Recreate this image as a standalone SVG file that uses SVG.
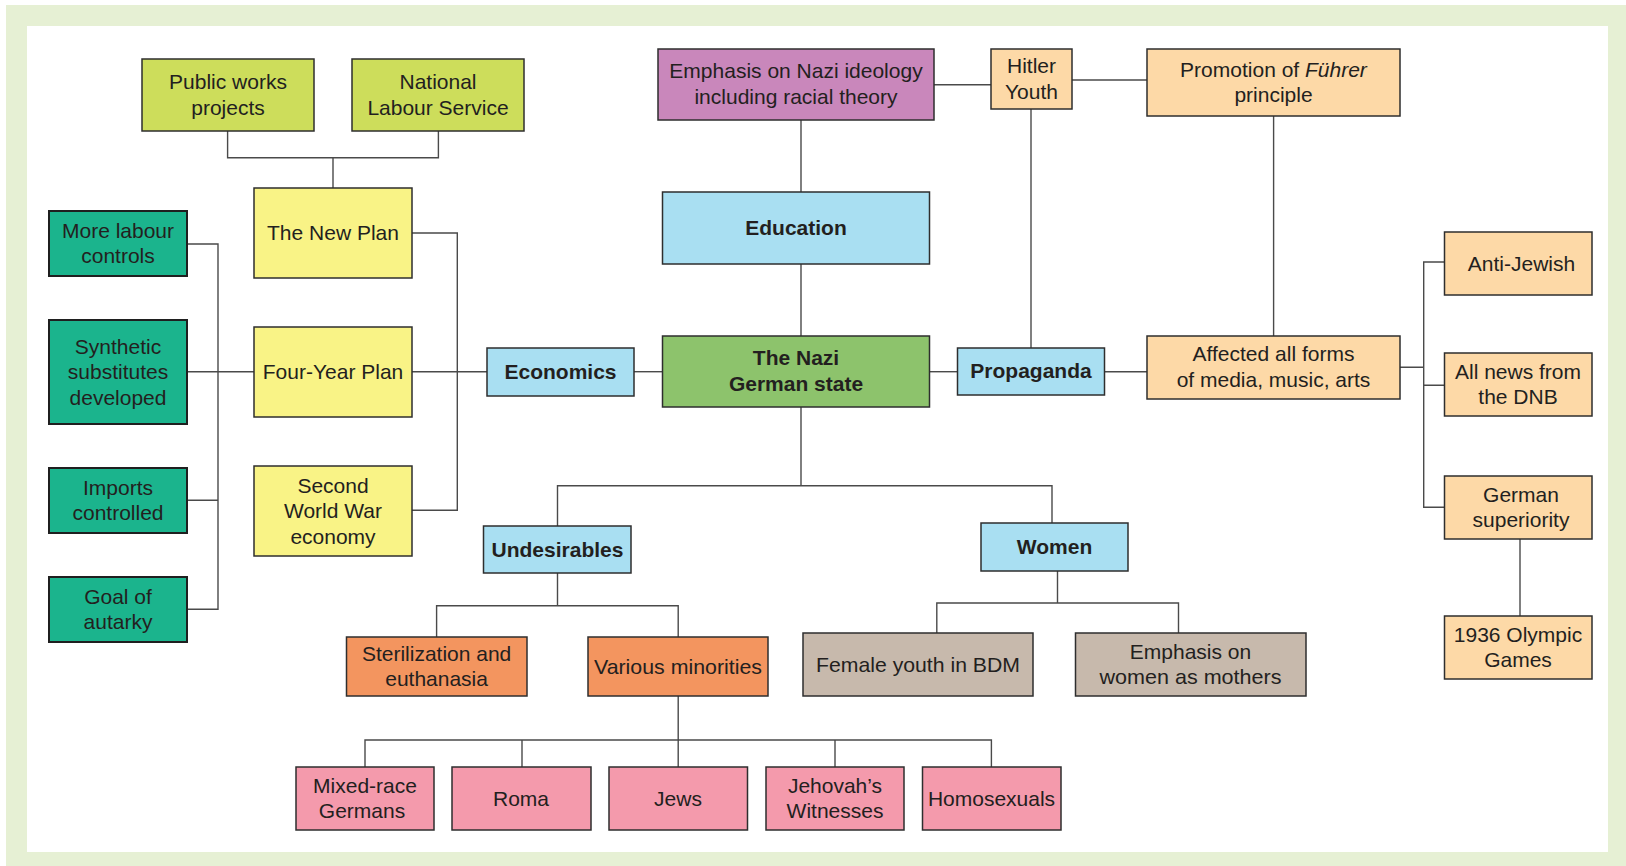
<svg xmlns="http://www.w3.org/2000/svg" width="1626" height="866" viewBox="0 0 1626 866">
<style>
.b{stroke:#2e2e2e;stroke-width:1.5}
.lime{fill:#cddd5b}.yel{fill:#f9f386}.teal{fill:#1bb48d;stroke:#1f1f1f;stroke-width:2}
.mauve{fill:#c987bb}.blue{fill:#a9dff2}.grn{fill:#8dc36c}.peach{fill:#fdd9a7}
.org{fill:#f3955f}.taupe{fill:#c7b9ac}.pink{fill:#f49aac}
text{font-family:"Liberation Sans",Arial,Helvetica,sans-serif;font-size:21px;fill:#231f20;text-anchor:middle}
.bold{font-weight:bold}
#connectors path{fill:none;stroke:#4a4a4a;stroke-width:1.4}
</style>
<rect x="0" y="0" width="1626" height="866" fill="#ffffff"/>
<rect x="6" y="5" width="1620" height="861" fill="#e6f0d4"/>
<rect x="27" y="26" width="1581" height="826" fill="#ffffff"/>
<g id="connectors">
<path d="M227.6,131 V157.7 H438.4 V131 M333,157.7 V188"/>
<path d="M187.3,244 H218 V609.3 H187.3 M187.3,371.7 H254 M187.3,500.3 H218"/>
<path d="M412,233 H457.3 V510.3 H412 M412,371.7 H487"/>
<path d="M634,371.7 H662.5"/>
<path d="M801,120 V192 M801,264 V336"/>
<path d="M934,84.7 H991"/>
<path d="M1072,80 H1147"/>
<path d="M1031,109 V348"/>
<path d="M929.5,371.7 H957.5"/>
<path d="M1104.5,371.7 H1147"/>
<path d="M1273.6,116 V336"/>
<path d="M1400,367.3 H1423.7 M1444.5,262 H1423.7 V507.3 H1444.5 M1423.7,385.3 H1444.5"/>
<path d="M1520,539 V616"/>
<path d="M801,407 V485.7 M557.5,526 V485.7 H1052 V523"/>
<path d="M557.5,573 V605.7 M436.6,637 V605.7 H678.2 V637"/>
<path d="M678.2,696 V767 M365,767 V740 H991.4 V767 M522,740 V767 M835,740 V767"/>
<path d="M1057.5,571 V603 M936.8,633 V603 H1178.5 V633"/>
</g>
<g id="public-works"><rect class="b lime" x="142" y="59" width="172" height="72"/><text x="228" y="89.25">Public works</text><text x="228" y="114.75">projects</text></g>
<g id="national-labour"><rect class="b lime" x="352" y="59" width="172" height="72"/><text x="438" y="89.25">National</text><text x="438" y="114.75">Labour Service</text></g>
<g id="new-plan"><rect class="b yel" x="254" y="188" width="158" height="90"/><text x="333" y="240">The New Plan</text></g>
<g id="four-year-plan"><rect class="b yel" x="254" y="327" width="158" height="90"/><text x="333" y="379">Four-Year Plan</text></g>
<g id="sww-economy"><rect class="b yel" x="254" y="466" width="158" height="90"/><text x="333" y="492.5">Second</text><text x="333" y="518">World War</text><text x="333" y="543.5">economy</text></g>
<g id="more-labour"><rect class="teal" x="49" y="211" width="138" height="65"/><text x="118" y="237.75">More labour</text><text x="118" y="263.25">controls</text></g>
<g id="synthetic"><rect class="teal" x="49" y="320" width="138" height="104"/><text x="118" y="353.5">Synthetic</text><text x="118" y="379">substitutes</text><text x="118" y="404.5">developed</text></g>
<g id="imports"><rect class="teal" x="49" y="468" width="138" height="65"/><text x="118" y="494.75">Imports</text><text x="118" y="520.25">controlled</text></g>
<g id="autarky"><rect class="teal" x="49" y="577" width="138" height="65"/><text x="118" y="603.75">Goal of</text><text x="118" y="629.25">autarky</text></g>
<g id="economics"><rect class="b blue" x="487" y="348" width="147" height="48"/><text class="bold" x="560.5" y="379">Economics</text></g>
<g id="nazi-state"><rect class="b grn" x="662.5" y="336" width="267" height="71"/><text class="bold" x="796" y="365.25">The Nazi</text><text class="bold" x="796" y="390.75">German state</text></g>
<g id="education"><rect class="b blue" x="662.5" y="192" width="267" height="72"/><text class="bold" x="796" y="235">Education</text></g>
<g id="ideology"><rect class="b mauve" x="658" y="49" width="276" height="71"/><text x="796" y="78.25">Emphasis on Nazi ideology</text><text x="796" y="103.75">including racial theory</text></g>
<g id="hitler-youth"><rect class="b peach" x="991" y="49" width="81" height="60"/><text x="1031.5" y="73.25">Hitler</text><text x="1031.5" y="98.75">Youth</text></g>
<g id="fuhrer"><rect class="b peach" x="1147" y="49" width="253" height="67"/><text x="1273.5" y="76.75">Promotion of <tspan font-style="italic">Führer</tspan></text><text x="1273.5" y="102.25">principle</text></g>
<g id="propaganda"><rect class="b blue" x="957.5" y="348" width="147" height="47"/><text class="bold" x="1031" y="378">Propaganda</text></g>
<g id="affected"><rect class="b peach" x="1147" y="336" width="253" height="63"/><text x="1273.5" y="361.25">Affected all forms</text><text x="1273.5" y="386.75">of media, music, arts</text></g>
<g id="anti-jewish"><rect class="b peach" x="1444.5" y="232" width="147.5" height="63"/><text x="1521.5" y="270.5">Anti-Jewish</text></g>
<g id="dnb"><rect class="b peach" x="1444.5" y="353" width="147.5" height="63"/><text x="1518" y="378.75">All news from</text><text x="1518" y="404.25">the DNB</text></g>
<g id="german-superiority"><rect class="b peach" x="1444.5" y="476" width="147.5" height="63"/><text x="1521" y="501.75">German</text><text x="1521" y="527.25">superiority</text></g>
<g id="olympics"><rect class="b peach" x="1444.5" y="616" width="147.5" height="63"/><text x="1518" y="641.75">1936 Olympic</text><text x="1518" y="667.25">Games</text></g>
<g id="undesirables"><rect class="b blue" x="483.5" y="526" width="147.5" height="47"/><text class="bold" x="557.5" y="556.5">Undesirables</text></g>
<g id="women"><rect class="b blue" x="981" y="523" width="147" height="48"/><text class="bold" x="1054.5" y="554">Women</text></g>
<g id="sterilization"><rect class="b org" x="346.5" y="637" width="180.5" height="59"/><text x="436.6" y="660.75">Sterilization and</text><text x="436.6" y="686.25">euthanasia</text></g>
<g id="minorities"><rect class="b org" x="588" y="637" width="180" height="59"/><text x="678" y="673.5" textLength="168" lengthAdjust="spacingAndGlyphs">Various minorities</text></g>
<g id="female-youth"><rect class="b taupe" x="803" y="633" width="230" height="63"/><text x="918" y="671.5" textLength="204" lengthAdjust="spacingAndGlyphs">Female youth in BDM</text></g>
<g id="mothers"><rect class="b taupe" x="1075.5" y="633" width="230.5" height="63"/><text x="1190.5" y="658.75">Emphasis on</text><text x="1190.5" y="684.25" textLength="182" lengthAdjust="spacingAndGlyphs">women as mothers</text></g>
<g id="mixed-race"><rect class="b pink" x="296" y="767" width="138" height="63"/><text x="365" y="792.75">Mixed-race</text><text x="362" y="818.25">Germans</text></g>
<g id="roma"><rect class="b pink" x="452" y="767" width="139" height="63"/><text x="521" y="805.5">Roma</text></g>
<g id="jews"><rect class="b pink" x="609" y="767" width="138.5" height="63"/><text x="678" y="805.5">Jews</text></g>
<g id="jehovah"><rect class="b pink" x="766" y="767" width="138" height="63"/><text x="835" y="792.75">Jehovah’s</text><text x="835" y="818.25">Witnesses</text></g>
<g id="homosexuals"><rect class="b pink" x="922.5" y="767" width="138.5" height="63"/><text x="991.5" y="805.5">Homosexuals</text></g>
</svg>
